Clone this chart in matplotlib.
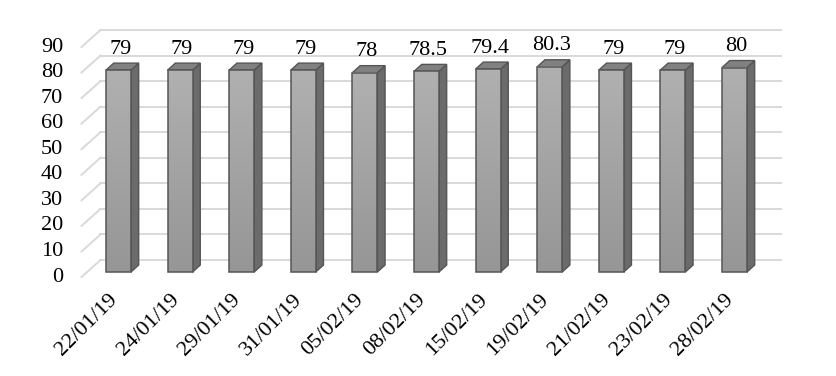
import numpy as np
import matplotlib
matplotlib.use('Agg')
import matplotlib.pyplot as plt
from matplotlib.patches import Polygon
from matplotlib.colors import LinearSegmentedColormap

dates = ['22/01/19', '24/01/19', '29/01/19', '31/01/19', '05/02/19', '08/02/19',
         '15/02/19', '19/02/19', '21/02/19', '23/02/19', '28/02/19']
values = [79, 79, 79, 79, 78, 78.5, 79.4, 80.3, 79, 79, 80]
labels = ['79', '79', '79', '79', '78', '78.5', '79.4', '80.3', '79', '79', '80']
yticks = [0, 10, 20, 30, 40, 50, 60, 70, 80, 90]

plt.rcParams['font.family'] = ['Liberation Serif', 'DejaVu Serif']
fs = 16

fig = plt.figure(figsize=(8.36, 3.76), dpi=100)
ax = fig.add_axes([0.06806, 0.2561, 0.8842, 0.6798])
ax.set_xlim(-1.0, 11.0)
ax.set_ylim(-3, 97)
ax.axis('off')

# 3d offsets (data units)
bdx, bdy = 0.2175, 4.69     # back wall
fdx, fdy = -0.091, -1.96    # front edge of side wall
ddx, ddy = 0.125, 2.74      # bar depth
w = 0.405
wall_l, wall_r = -0.51, 10.545

grid_c = '#d9d9d9'
for t in yticks:
    ax.plot([wall_l + bdx, wall_r + bdx], [t + bdy, t + bdy], color=grid_c, lw=1.4, zorder=1)
    ax.plot([wall_l + fdx, wall_l + bdx], [t + fdy, t + bdy], color=grid_c, lw=1.4, zorder=1)
    ax.text(-0.9, t + fdy, str(t), ha='right', va='center', fontsize=fs, zorder=5)

cmap = LinearSegmentedColormap.from_list('g', ['#969696', '#b0b0b0'])
grad = np.linspace(0, 1, 64).reshape(-1, 1)
edge = '#555555'

for i, v in enumerate(values):
    x0, x1 = i - w / 2, i + w / 2
    side = Polygon([(x1, 0), (x1 + ddx, ddy), (x1 + ddx, v + ddy), (x1, v)],
                   closed=True, fc='#6b6b6b', ec=edge, lw=1.0, zorder=3)
    top = Polygon([(x0, v), (x0 + ddx, v + ddy), (x1 + ddx, v + ddy), (x1, v)],
                  closed=True, fc='#818181', ec=edge, lw=1.0, zorder=3)
    ax.add_patch(side)
    ax.add_patch(top)
    ax.imshow(grad, extent=[x0, x1, 0, v], origin='lower', aspect='auto',
              cmap=cmap, zorder=3, interpolation='bilinear')
    ax.add_patch(plt.Rectangle((x0, 0), w, v, fc='none', ec=edge, lw=1.1, zorder=4))
    ax.annotate(labels[i], (i + 0.03, v), xytext=(0, 15), textcoords='offset points',
                ha='center', va='center', fontsize=fs, zorder=5)
    ax.text(i - 0.06, -9.8, dates[i], rotation=45, rotation_mode='anchor',
            ha='right', va='center', fontsize=fs, zorder=5)

ax.set_xlim(-1.0, 11.0)
ax.set_ylim(-3, 97)
fig.savefig('out.png', dpi=100)
